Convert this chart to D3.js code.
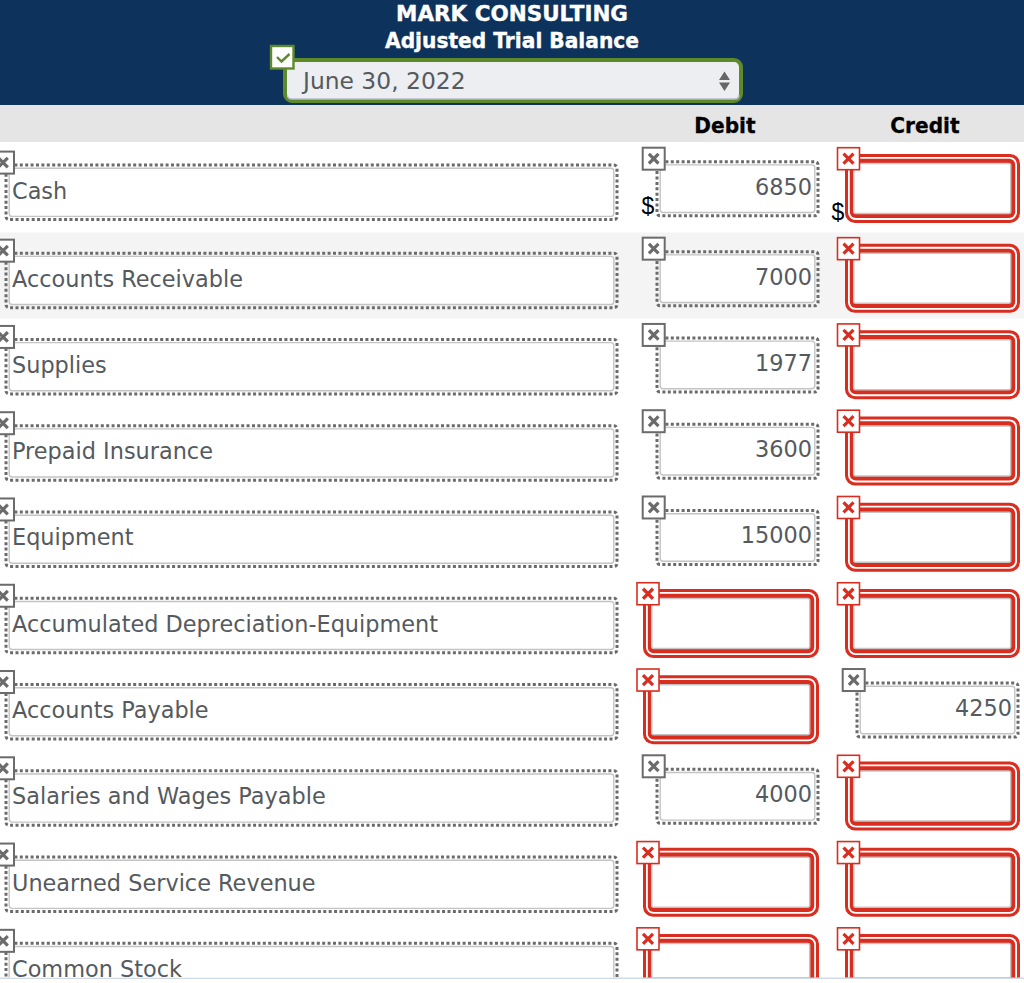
<!DOCTYPE html>
<html><head><meta charset="utf-8">
<script src="https://cdn.jsdelivr.net/npm/d3@7/dist/d3.min.js"></script>
<style>html,body{margin:0;padding:0;background:#fff}svg{display:block}</style>
</head><body><svg id="c" width="1024" height="983"></svg>
<script>
const title = ["MARK CONSULTING", "Adjusted Trial Balance"];
const dateLabel = "June 30, 2022";
const columns = ["Debit", "Credit"];
const accounts = ["Cash","Accounts Receivable","Supplies","Prepaid Insurance","Equipment","Accumulated Depreciation-Equipment","Accounts Payable","Salaries and Wages Payable","Unearned Service Revenue","Common Stock"];
const debit  = [6850,7000,1977,3600,15000,null,null,4000,null,null];
const credit = [null,null,null,null,null,null,4250,null,null,null];

const svg = d3.select("#c");
const NAVY="#0d335d", GREEN="#5f8a2c", RED="#d92d20", GREY="#6b6b6b", TXT="#555a5e", FONT="'DejaVu Sans',Verdana,sans-serif";

const y = d3.scaleBand().domain(accounts.map((d,i)=>i)).range([150.4, 150.4+86.27*accounts.length]);
const x = d3.scaleOrdinal().domain(columns).range([725,925]);
svg.append("defs").append("clipPath").attr("id","pg").append("rect").attr("width",1024).attr("height",977.5);

svg.append("rect").attr("width",1024).attr("height",105).attr("fill",NAVY);
svg.append("rect").attr("y",105).attr("width",1024).attr("height",37).attr("fill","#e5e5e5");
svg.append("rect").attr("y",232.5).attr("width",1024).attr("height",86).attr("fill","#f4f4f4");
svg.append("rect").attr("y",977.5).attr("width",1024).attr("height",1.5).attr("fill","#d0dbe6");

svg.selectAll("text.t").data(title).join("text").attr("class","t")
  .attr("x",512).attr("y",(d,i)=>20.5+i*27.5).attr("text-anchor","middle")
  .attr("font-family",FONT).attr("font-weight","bold").attr("font-size",22).attr("fill","#fff")
  .attr("stroke","#fff").attr("stroke-width",0.4)
  .attr("textLength",(d,i)=>i?254:232).attr("lengthAdjust","spacingAndGlyphs").text(d=>d);

svg.append("rect").attr("x",285).attr("y",60).attr("width",456).attr("height",41).attr("rx",7).attr("fill","#eceef1").attr("stroke",GREEN).attr("stroke-width",4);
svg.append("path").attr("d","M287.5 96 Q288 99 292 99 L735 99 Q739 99 739 95").attr("fill","none").attr("stroke","#b9bfd0").attr("stroke-width",1.5);
svg.append("text").attr("x",303).attr("y",88.5).attr("font-family",FONT).attr("font-size",23.4).attr("fill",TXT).text(dateLabel);
svg.append("path").attr("d","M724.5 71.5l5.5 8.5h-11z M724.5 91l5.5 -8.5h-11z").attr("fill","#666");
svg.append("rect").attr("x",271).attr("y",46).attr("width",22.5).attr("height",22.5).attr("fill","#fff").attr("stroke",GREEN).attr("stroke-width",2.4);
svg.append("path").attr("d","M277 57l4.5 4.5l8 -7.5").attr("fill","none").attr("stroke",GREEN).attr("stroke-width",2.4);

svg.selectAll("text.h").data(columns).join("text").attr("class","h")
  .attr("x",d=>x(d)).attr("y",133).attr("text-anchor","middle")
  .attr("font-family",FONT).attr("font-weight","bold").attr("font-size",22).attr("fill","#000")
  .attr("stroke","#000").attr("stroke-width",0.3)
  .attr("lengthAdjust","spacingAndGlyphs").text(d=>d)
  .attr("textLength",function(){return this.getComputedTextLength()*0.915;});

const g = svg.append("g").attr("clip-path","url(#pg)");

function badge(bx,by,bad){
  const c = bad?RED:GREY;
  g.append("rect").attr("x",bx+1).attr("y",by+1).attr("width",22).attr("height",22).attr("fill","#fff").attr("stroke",c).attr("stroke-width",bad?1.6:2);
  const cx=bx+12, cy=by+12, r=bad?5:4.8;
  g.append("path").attr("d",`M${cx-r} ${cy-r}L${cx+r} ${cy+r}M${cx+r} ${cy-r}L${cx-r} ${cy+r}`).attr("stroke",c).attr("stroke-width",3.2);
}
function dotted(bx,by,w,h){
  g.append("rect").attr("x",bx+3.2).attr("y",by+3.2).attr("width",w-6.4).attr("height",h-6.4).attr("rx",3).attr("fill","#fff").attr("stroke","#c4c4c4").attr("stroke-width",1.4);
  g.append("rect").attr("x",bx).attr("y",by).attr("width",w).attr("height",h).attr("rx",3).attr("fill","none").attr("stroke",GREY).attr("stroke-width",3).attr("stroke-dasharray","3 2.4");
}
function redBox(bx,by,w,h){
  g.append("rect").attr("x",bx).attr("y",by).attr("width",w).attr("height",h).attr("rx",10).attr("fill",RED);
  g.append("rect").attr("x",bx+3).attr("y",by+3).attr("width",w-6).attr("height",h-6).attr("rx",7.5).attr("fill","#fff");
  g.append("rect").attr("x",bx+4.8).attr("y",by+4.8).attr("width",w-9.6).attr("height",h-9.6).attr("rx",6).attr("fill",RED);
  g.append("rect").attr("x",bx+8.7).attr("y",by+9.5).attr("width",w-18).attr("height",h-19).attr("rx",2).attr("fill","#fff").attr("stroke","#c4c4c4").attr("stroke-width",1.5);
}

accounts.forEach((name,i)=>{
  const base = y(i);
  const lab = i===0 ? -1.8 : 0;
  const cellTop = base - (i===0 ? 3.7 : 0);
  dotted(6, base+16.5+lab, 611, 54.5);
  badge(-9, base+2+lab, false);
  g.append("text").attr("x",12).attr("y",base+50+lab).attr("font-family",FONT).attr("font-size",22.4).attr("fill",TXT).text(name);

  [[debit,0],[credit,1]].forEach(([vals,k])=>{
    const v = vals[i];
    const cx = x(columns[k]);
    if (v!==null){
      const bx = cx - 68, bw = 161;
      dotted(bx, cellTop+15, bw, 54);
      badge(bx-15.3, cellTop, false);
      g.append("text").attr("x",bx+bw-6).attr("y",cellTop+48).attr("text-anchor","end")
        .attr("font-family",FONT).attr("font-size",22.4).attr("fill",TXT).text(v);
    } else {
      const bx = k?845:643;
      redBox(bx, cellTop+7.2, k?175:176, 69);
      badge(bx-(k?8.5:7), cellTop, true);
    }
  });
});
g.append("text").attr("x",648).attr("y",214).attr("text-anchor","middle").attr("font-family","'Liberation Sans',Arial,sans-serif").attr("font-size",23).attr("fill","#000").text("$");
g.append("text").attr("x",838).attr("y",220).attr("text-anchor","middle").attr("font-family","'Liberation Sans',Arial,sans-serif").attr("font-size",23).attr("fill","#000").text("$");
</script></body></html>
